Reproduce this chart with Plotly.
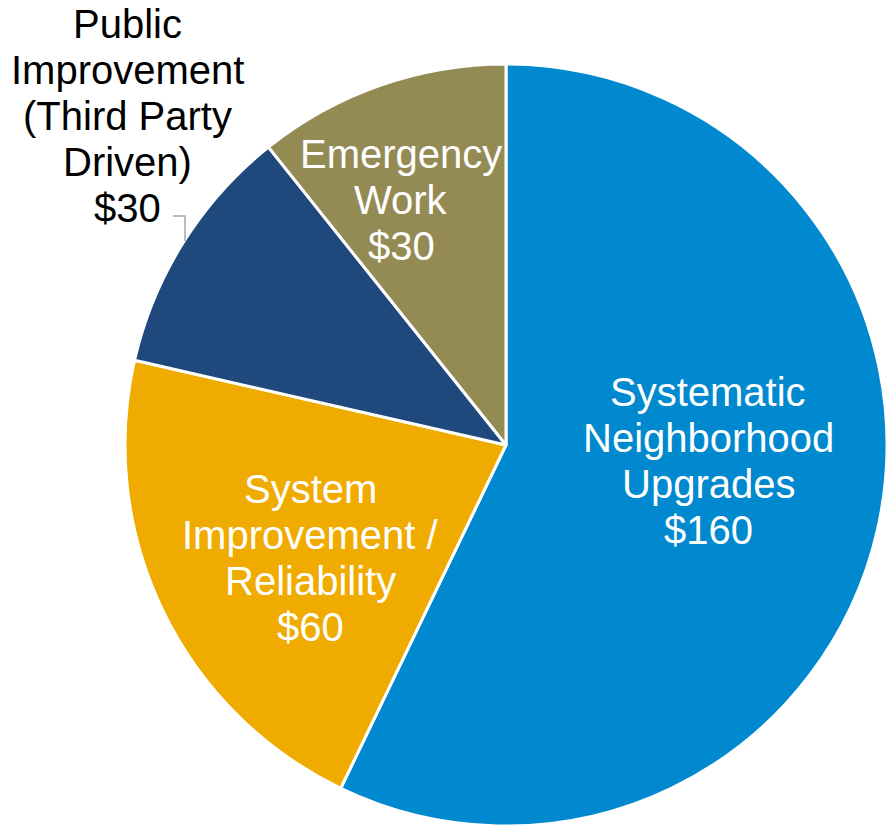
import plotly.graph_objects as go

# Data
categories = ["Systematic Neighborhood Upgrades", "System Improvement / Reliability",
              "Public Improvement (Third Party Driven)", "Emergency Work"]
values = [160, 60, 30, 30]
colors = ["#0089CF", "#F0AB00", "#1F497D", "#948B54"]
label_lines = [
    ["Systematic", "Neighborhood", "Upgrades", "$160"],
    ["System", "Improvement /", "Reliability", "$60"],
    ["Public", "Improvement", "(Third Party", "Driven)", "$30"],
    ["Emergency", "Work", "$30"],
]
label_colors = ["white", "white", "black", "white"]

W, H = 887, 829
# label block centres in pixels (layout positions for text)
label_pos = [(708, 461), (310, 558), (127, 116), (401, 200)]
LINE = 46
FS = 40

fig = go.Figure(go.Pie(
    labels=categories, values=values, sort=False, direction="clockwise", rotation=0,
    marker=dict(colors=colors, line=dict(color="white", width=3)),
    textinfo="none", hoverinfo="skip", showlegend=False,
    domain=dict(x=[125 / W, 1.0], y=[2 / H, 766 / H]),
))

annotations = []
for lines, (cx, cy), col in zip(label_lines, label_pos, label_colors):
    n = len(lines)
    for i, t in enumerate(lines):
        py = cy + (i - (n - 1) / 2) * LINE
        annotations.append(dict(
            text=t, x=cx / W, y=1 - py / H, xref="paper", yref="paper",
            xanchor="center", yanchor="middle", showarrow=False,
            font=dict(family="Liberation Sans, Arial, sans-serif", size=FS, color=col),
        ))

# leader line for the outside label
fig.add_shape(type="path", xref="paper", yref="paper",
              path=f"M {173/W},{1-216/H} L {185/W},{1-216/H} L {185/W},{1-241/H}",
              line=dict(color="#A6A6A6", width=1.5))

fig.update_layout(
    width=W, height=H, margin=dict(l=0, r=0, t=0, b=0),
    paper_bgcolor="white", plot_bgcolor="white",
    annotations=annotations,
)

fig.write_html("out.html", config={"displayModeBar": False},
               post_script="document.body.style.margin='0';document.body.style.overflow='hidden';")
